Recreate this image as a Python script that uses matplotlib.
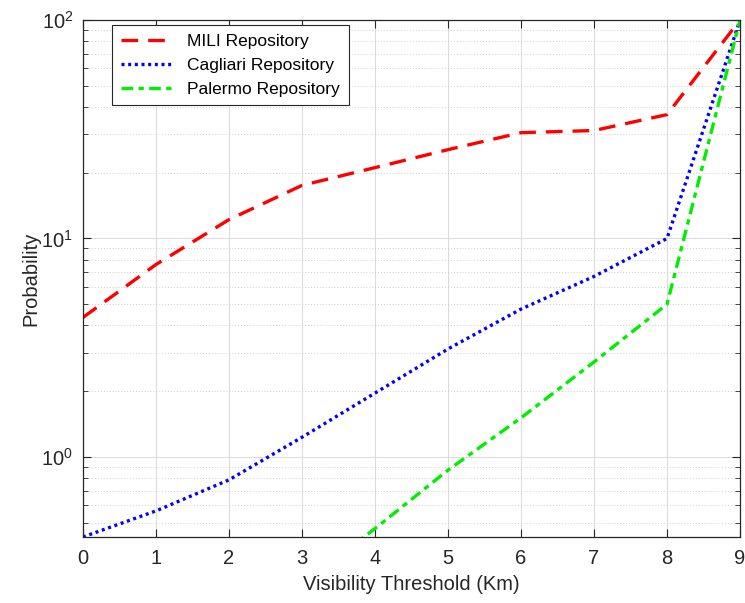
import numpy as np
import matplotlib.pyplot as plt
from matplotlib.ticker import NullFormatter, LogLocator

plt.rcParams['font.family'] = ['Liberation Sans', 'DejaVu Sans']
plt.rcParams['mathtext.fontset'] = 'custom'
plt.rcParams['mathtext.rm'] = 'Liberation Sans'

# visibility thresholds (km) and probabilities per repository
threshold = [0, 1, 2, 3, 4, 5, 6, 7, 8, 9]
mili = [4.35, 7.6, 12.2, 17.5, 21.1, 25.5, 30.5, 31.2, 36.9, 100]
cagliari = [0.43, 0.566, 0.785, 1.23, 1.96, 3.12, 4.75, 6.7, 10, 100]
palermo_x = [3, 4, 5, 6, 7, 8, 9]
palermo = [0.26, 0.47, 0.87, 1.51, 2.72, 5.0, 100]

fig = plt.figure(figsize=(7.45, 6.03), dpi=100)
ax = fig.add_axes([0.1114, 0.1095, 0.8819, 0.8573])

ax.plot(threshold, mili, color='red', lw=2.4, linestyle=(0, (5, 3)), label='MILI Repository')
ax.plot(threshold, cagliari, color='blue', lw=2.4, linestyle=(0, (0.9, 1.1)), label='Cagliari Repository')
ax.plot(palermo_x, palermo, color='#00ee00', lw=2.4, linestyle=(0, (3.5, 1.6, 1.6, 1.6)), label='Palermo Repository')

ax.set_yscale('log')
ax.set_xlim(0, 9)
ax.set_ylim(0.43, 100)
ax.set_xticks(threshold)
ax.yaxis.set_minor_locator(LogLocator(base=10, subs=np.arange(2, 10)))
ax.yaxis.set_minor_formatter(NullFormatter())

ax.grid(True, which='major', color='#dcdcdc', lw=0.8, ls='-')
ax.grid(True, which='minor', axis='y', color='#cfcfcf', lw=0.7, ls=(0, (1, 2)))
ax.set_axisbelow(True)

ax.tick_params(which='both', direction='in', top=True, right=True, colors='#262626', labelsize=14.5)
ax.tick_params(which='major', length=6)
ax.tick_params(which='minor', length=3.5)
ax.tick_params(axis='x', pad=9)
ax.tick_params(axis='y', pad=7)
for s in ax.spines.values():
    s.set_color('#262626')
    s.set_linewidth(0.9)

ax.set_xlabel('Visibility Threshold (Km)', fontsize=14.5, color='#262626', labelpad=5)
ax.set_ylabel('Probability', fontsize=14.5, color='#262626', labelpad=1)

leg = ax.legend(loc='upper left', bbox_to_anchor=(0.044, 0.99), fontsize=12.5, fancybox=False,
                framealpha=1, edgecolor='#262626', handlelength=3.1, handletextpad=0.75,
                borderpad=0.5, labelspacing=0.5, borderaxespad=0)
leg.get_frame().set_linewidth(0.8)

fig.savefig('out.png', dpi=100)
